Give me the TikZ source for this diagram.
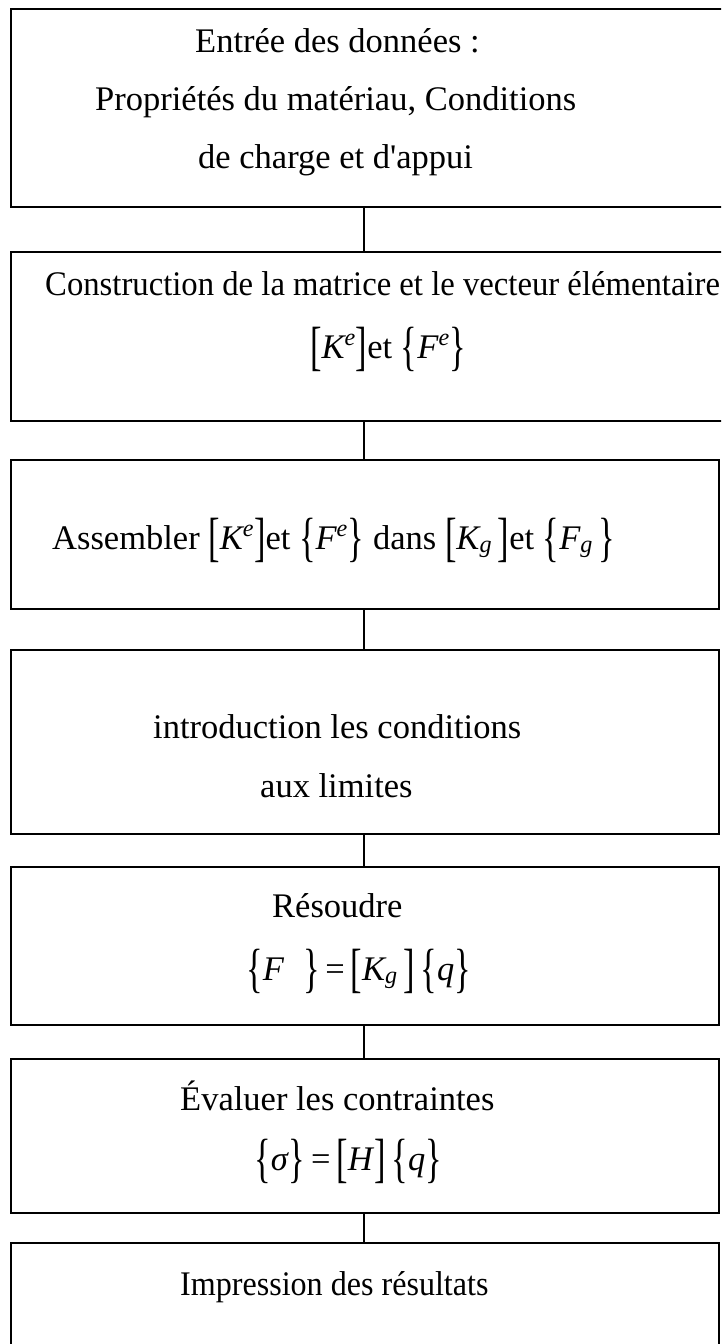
\documentclass[tikz,border=0pt]{standalone}
\usepackage{amsmath}
\usepackage{fontspec}
\setmainfont{Liberation Serif}[Ligatures=TeXOff]
\newcommand{\dl}[1]{\raisebox{-0.19em}{\scalebox{1}[1.56]{#1}}}
\newcommand{\iv}[1]{\textit{#1}}
\begin{document}
\begin{tikzpicture}[x=1pt,y=-1pt]
\tikzset{
  box/.style={draw, line width=2pt, inner sep=0pt, outer sep=0pt, anchor=north west},
  conn/.style={draw, line width=1.3pt},
  txt/.style={anchor=base west, inner sep=0pt, font=\fontsize{34.5}{40}\selectfont}
}
\path[use as bounding box] (0,0) rectangle (721,1344);
\clip (0,0) rectangle (721,1344);
\fill[white] (0,0) rectangle (721,1344);
% boxes
\node[box, minimum width=724pt, minimum height=198pt] (b1) at (11,9) {};
\node[box, minimum width=724pt, minimum height=169pt] (b2) at (11,252) {};
\node[box, minimum width=708pt, minimum height=149pt] (b3) at (11,460) {};
\node[box, minimum width=708pt, minimum height=184pt] (b4) at (11,650) {};
\node[box, minimum width=708pt, minimum height=158pt] (b5) at (11,867) {};
\node[box, minimum width=708pt, minimum height=154pt] (b6) at (11,1059) {};
\node[box, minimum width=708pt, minimum height=130pt] (b7) at (11,1243) {};
% connectors
\coordinate (cx) at (364,0);
\draw[conn] (b1.south -| cx) -- (b2.north -| cx);
\draw[conn] (b2.south -| cx) -- (b3.north -| cx);
\draw[conn] (b3.south -| cx) -- (b4.north -| cx);
\draw[conn] (b4.south -| cx) -- (b5.north -| cx);
\draw[conn] (b5.south -| cx) -- (b6.north -| cx);
\draw[conn] (b6.south -| cx) -- (b7.north -| cx);
% texts
\node[txt] (t1a) at (195,52) {Entrée des données :};
\node[txt] (t1b) at (95,110) {Propriétés du matériau, Conditions};
\node[txt] (t1c) at (198,168) {de charge et d'appui};
\node[txt] (t2a) at (45,295) {\scalebox{0.948}[1]{Construction de la matrice et le vecteur élémentaire}};
\node[txt] (t2b) at (310,358) {\dl{[}$\iv{K}^{\iv{e}}$\dl{]}et \dl{\{}$\iv{F}^{\iv{e}}$\dl{\}}};
\node[txt] (t3) at (52,549) {Assembler \dl{[}$\iv{K}^{\iv{e}}$\dl{]}et \dl{\{}$\iv{F}^{\iv{e}}$\dl{\}} dans \dl{[}$\iv{K}_{\iv{g}}$\,\dl{]}et \dl{\{}$\iv{F}_{\iv{g}}$\,\dl{\}}};
\node[txt] (t4a) at (153,738) {introduction les conditions};
\node[txt] (t4b) at (260,797) {aux limites};
\node[txt] (t5a) at (272,917) {Résoudre};
\node[txt] (t5b) at (246,980) {\dl{\{}\iv{F}\hspace{0.55em}\dl{\}}\,=\,\dl{[}$\iv{K}_{\iv{g}}$\,\dl{]}\,\dl{\{}\iv{q}\dl{\}}};
\node[txt] (t6a) at (180,1110) {Évaluer les contraintes};
\node[txt] (t6b) at (254,1170) {\dl{\{}\iv{σ}\dl{\}}\,=\,\dl{[}\iv{H}\dl{]}\,\dl{\{}\iv{q}\dl{\}}};
\node[txt] (t7) at (180,1295) {\scalebox{0.93}[1]{Impression des résultats}};
\end{tikzpicture}
\end{document}
